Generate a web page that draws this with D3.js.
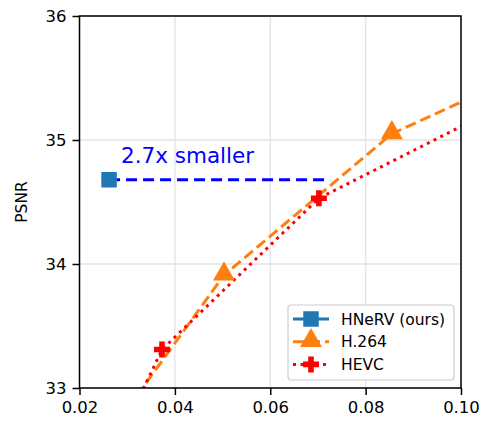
<!DOCTYPE html>
<html>
<head>
<meta charset="utf-8">
<script src="https://cdn.jsdelivr.net/npm/d3@7"></script>
<style>
  body { margin: 0; background: #fff; }
  svg text { font-family: "DejaVu Sans", sans-serif; }
</style>
</head>
<body>
<svg id="chart"></svg>
<script>
// data (bits per pixel vs PSNR)
var hnervX = [0.0262];
var hnervY = [34.68];
var h264X = [0.0300, 0.0503, 0.0855, 0.1150];
var h264Y = [32.83, 33.91, 35.05, 35.57];
var hevcX = [0.0300, 0.0373, 0.0702, 0.1150];
var hevcY = [32.72, 33.31, 34.53, 35.40];
var xTicks = [0.02, 0.04, 0.06, 0.08, 0.10];
var yTicks = [33, 34, 35, 36];
var annotX = [0.0262, 0.0722];
var annotLabel = "2.7x smaller";
var names = ["HNeRV (ours)", "H.264", "HEVC"];

// basic settings
var width = 485, height = 421;
var margin = {left: 79.5, right: 24, top: 16, bottom: 33};

var svg = d3.select("#chart").attr("width", width).attr("height", height);

var x = d3.scaleLinear().domain([0.02, 0.10]).range([margin.left, width - margin.right]);
var y = d3.scaleLinear().domain([33, 36]).range([height - margin.bottom, margin.top]);

svg.append("clipPath").attr("id", "plotclip")
  .append("rect")
  .attr("x", x(0.02)).attr("y", y(36))
  .attr("width", x(0.10) - x(0.02)).attr("height", y(33) - y(36));

// grid
var grid = svg.append("g");
grid.selectAll(".gx").data(xTicks).enter().append("line")
  .attr("x1", function(d) { return x(d); }).attr("x2", function(d) { return x(d); })
  .attr("y1", y(33)).attr("y2", y(36))
  .attr("stroke", "#e3e3e3").attr("stroke-width", 1.3);
grid.selectAll(".gy").data(yTicks).enter().append("line")
  .attr("y1", function(d) { return y(d); }).attr("y2", function(d) { return y(d); })
  .attr("x1", x(0.02)).attr("x2", x(0.10))
  .attr("stroke", "#e3e3e3").attr("stroke-width", 1.3);

var plot = svg.append("g").attr("clip-path", "url(#plotclip)");

function pts(xs, ys) { return xs.map(function(v, i) { return [v, ys[i]]; }); }
var line = d3.line().x(function(d) { return x(d[0]); }).y(function(d) { return y(d[1]); });

// annotation dashed line
plot.append("path")
  .attr("d", line([[annotX[0], hnervY[0]], [annotX[1], hnervY[0]]]))
  .attr("fill", "none").attr("stroke", "#0000ff").attr("stroke-width", 3)
  .attr("stroke-dasharray", "11,6");

// H.264
plot.append("path")
  .attr("d", line(pts(h264X, h264Y)))
  .attr("fill", "none").attr("stroke", "#ff7f0e").attr("stroke-width", 3)
  .attr("stroke-dasharray", "11,5");

// HEVC
plot.append("path")
  .attr("d", line(pts(hevcX, hevcY)))
  .attr("fill", "none").attr("stroke", "#ff0000").attr("stroke-width", 3)
  .attr("stroke-dasharray", "3,4.5");

var sq = d3.symbol().type(d3.symbolSquare).size(240)();
var tri = d3.symbol().type(d3.symbolTriangle).size(210)();
var plus = "M-2.8,-8H2.8V-2.8H8V2.8H2.8V8H-2.8V2.8H-8V-2.8H-2.8Z";

plot.selectAll(".hn").data(pts(hnervX, hnervY)).enter().append("path")
  .attr("d", sq)
  .attr("transform", function(d) { return "translate(" + x(d[0]) + "," + y(d[1]) + ")"; })
  .attr("fill", "#1f77b4");
plot.selectAll(".h4").data(pts(h264X, h264Y)).enter().append("path")
  .attr("d", tri)
  .attr("transform", function(d) { return "translate(" + x(d[0]) + "," + (y(d[1]) - 1) + ")"; })
  .attr("fill", "#ff7f0e");
plot.selectAll(".hv").data(pts(hevcX, hevcY)).enter().append("path")
  .attr("d", plus)
  .attr("transform", function(d) { return "translate(" + x(d[0]) + "," + y(d[1]) + ")"; })
  .attr("fill", "#ff0000");

// annotation text
svg.append("text")
  .attr("x", x(0.0287)).attr("y", 163)
  .attr("fill", "#0000ff").attr("font-size", 21.5)
  .text(annotLabel);

// axes
var xAxis = d3.axisBottom(x).tickValues(xTicks).tickFormat(d3.format(".2f")).tickSize(7).tickPadding(6);
var yAxis = d3.axisLeft(y).tickValues(yTicks).tickFormat(d3.format("d")).tickSize(7).tickPadding(6);

var gx = svg.append("g").attr("transform", "translate(0," + y(33) + ")").call(xAxis);
var gy = svg.append("g").attr("transform", "translate(" + x(0.02) + ",0)").call(yAxis);
[gx, gy].forEach(function(g) {
  g.select(".domain").remove();
  g.selectAll(".tick line").attr("stroke", "#000").attr("stroke-width", 1.5);
  g.selectAll(".tick text").attr("fill", "#000").attr("font-size", 16.5)
    .attr("font-family", "DejaVu Sans");
});

// frame
svg.append("rect")
  .attr("x", x(0.02)).attr("y", y(36))
  .attr("width", x(0.10) - x(0.02)).attr("height", y(33) - y(36))
  .attr("fill", "none").attr("stroke", "#000").attr("stroke-width", 1.5);

svg.append("text")
  .attr("transform", "translate(27," + ((y(33) + y(36)) / 2) + ") rotate(-90)")
  .attr("text-anchor", "middle").attr("font-size", 15.5)
  .text("PSNR");

// legend
var legend = svg.append("g").attr("transform", "translate(288,305)");
legend.append("rect")
  .attr("width", 166).attr("height", 75).attr("rx", 3)
  .attr("fill", "#fff").attr("fill-opacity", 0.85)
  .attr("stroke", "#cccccc").attr("stroke-width", 1.2);

var legStyles = [
  {color: "#1f77b4", dash: null, marker: sq},
  {color: "#ff7f0e", dash: "11,5", marker: tri},
  {color: "#ff0000", dash: "3,4.5", marker: plus}
];
var rows = legend.selectAll(".row").data(names).enter().append("g")
  .attr("transform", function(d, i) { return "translate(0," + (14 + i * 22.7) + ")"; });
rows.append("line")
  .attr("x1", 5).attr("x2", 41).attr("y1", 0).attr("y2", 0)
  .attr("stroke", function(d, i) { return legStyles[i].color; })
  .attr("stroke-width", 3)
  .attr("stroke-dasharray", function(d, i) { return legStyles[i].dash; });
rows.append("path")
  .attr("d", function(d, i) { return legStyles[i].marker; })
  .attr("transform", function(d, i) { return "translate(23," + (i == 1 ? -1 : 0) + ")"; })
  .attr("fill", function(d, i) { return legStyles[i].color; });
rows.append("text")
  .attr("x", 53).attr("y", 5.5)
  .attr("font-size", 15.5)
  .text(function(d) { return d; });
</script>
</body>
</html>
